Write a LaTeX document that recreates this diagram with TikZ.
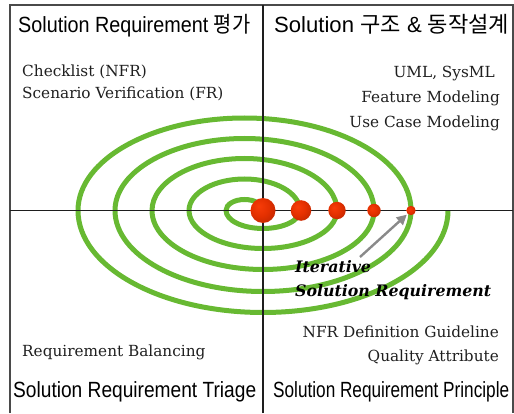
\documentclass[tikz,border=0pt]{standalone}
\usepackage{fontspec}
\usepackage{graphicx}
\usetikzlibrary{arrows.meta}
\setmainfont{DejaVu Serif}
\newfontfamily\titlefont{Liberation Sans}
\newfontfamily\krfont{Noto Sans CJK KR}

\definecolor{ringgreen}{HTML}{67B932}
\definecolor{framegray}{HTML}{4A4A4A}
\definecolor{axisblack}{HTML}{1E1E1E}
\definecolor{arrowgray}{HTML}{8A8A8A}
\definecolor{ballhi}{HTML}{F83C08}
\definecolor{ballmid}{HTML}{E43000}
\definecolor{balllow}{HTML}{B02200}
\definecolor{balldark}{HTML}{6E1200}

% red sphere: bright towards the upper left, dark towards the lower right
\pgfdeclareradialshading{redball}{\pgfpoint{-9bp}{9bp}}{%
  color(0bp)=(ballhi); color(18bp)=(ballmid); color(42bp)=(balllow); color(64bp)=(balldark)}

% squeeze or stretch a title to a given width, keeping its height
\newcommand{\fitwidth}[2]{\resizebox{#1}{\height}{#2}}

\tikzset{
  frameline/.style={draw=framegray, line width=1.2pt},
  axisline/.style={draw=axisblack, line width=1.8pt},
  spiral/.style={draw=ringgreen, line width=5pt},
  ball/.style={circle, inner sep=0pt, minimum size=#1, shading=redball},
  title/.style={inner sep=0pt, font=\titlefont\fontsize{22}{24}\selectfont},
  item/.style={inner sep=0pt, font=\fontsize{15.3}{17}\selectfont, text=black!88},
  iterlabel/.style={inner sep=0pt, font=\bfseries\itshape\fontsize{15.8}{17}\selectfont},
  pointer/.style={draw=arrowgray, line width=2.4pt, -{Triangle[length=10pt,width=10pt]}, shorten >=1pt},
}

\begin{document}
\begin{tikzpicture}[x=1pt,y=1pt]
\useasboundingbox (0,0) rectangle (514,413);

% outer frame (open at the bottom)
\draw[frameline] (10,0) -- (10,408) -- (513,408) -- (513,0);

% spiral of half ellipses, starting at the centre
\coordinate (origin) at (263,202.5);
\draw[spiral] (origin)
  arc[start angle=0,   end angle=180, x radius=18.5pt,  y radius=11pt]
  arc[start angle=180, end angle=360, x radius=37pt,    y radius=18pt]
  arc[start angle=0,   end angle=180, x radius=55.5pt,  y radius=31.5pt]
  arc[start angle=180, end angle=360, x radius=74pt,    y radius=38pt]
  arc[start angle=0,   end angle=180, x radius=92.5pt,  y radius=52pt]
  arc[start angle=180, end angle=360, x radius=111pt,   y radius=59pt]
  arc[start angle=0,   end angle=180, x radius=129.5pt, y radius=72pt]
  arc[start angle=180, end angle=360, x radius=148pt,   y radius=81pt]
  arc[start angle=0,   end angle=180, x radius=166.5pt, y radius=92.5pt]
  arc[start angle=180, end angle=360, x radius=185pt,   y radius=102pt];

% quadrant axes
\draw[axisline] (10,202.5) -- (513,202.5);
\draw[axisline] (263,0) -- (263,408);

% iteration points on the axis
\node[ball=25pt]  (dot1) at (263,202.5) {};
\node[ball=20.6pt] (dot2) at (301,202.5) {};
\node[ball=17.4pt] (dot3) at (337,202.5) {};
\node[ball=13.4pt] (dot4) at (374,202.5) {};
\node[ball=9.4pt]  (dot5) at (411,202.5) {};

% pointer from the caption to the outermost point
\coordinate (pointerstart) at (360,156);
\draw[pointer] (pointerstart) -- (dot5.south west);

% quadrant titles
\node[title, anchor=base west] (tl) at (18,380)
  {\fitwidth{232pt}{Solution Requirement {\krfont 평가}}};
\node[title, anchor=base west] (tr) at (274,380)
  {\fitwidth{235pt}{Solution {\krfont 구조} \& {\krfont 동작설계}}};
\node[title, anchor=base west] (bl) at (13,16)
  {\fitwidth{243pt}{Solution Requirement Triage}};
\node[title, anchor=base west] (br) at (273,16)
  {\fitwidth{236pt}{Solution Requirement Principle}};

% upper left items
\node[item, anchor=base west] (checklist) at (22,336.5) {Checklist (NFR)};
\node[item, anchor=base west] (scenario) at (22,314) {Scenario Verification (FR)};

% upper right items
\node[item, anchor=base east] (uml) at (495,335) {UML, SysML};
\node[item, anchor=base east] (feature) at (500,310.5) {Feature Modeling};
\node[item, anchor=base east] (usecase) at (500,285.5) {Use Case Modeling};

% lower left item
\node[item, anchor=base west] (balancing) at (22,57) {Requirement Balancing};

% lower right items
\node[item, anchor=base east] (nfrguide) at (499,76) {NFR Definition Guideline};
\node[item, anchor=base east] (quality) at (499,51.5) {Quality Attribute};

% caption of the spiral
\node[iterlabel, anchor=base west] (iter1) at (295,141) {Iterative};
\node[iterlabel, anchor=base west] (iter2) at (295,117) {Solution Requirement};
\end{tikzpicture}
\end{document}
